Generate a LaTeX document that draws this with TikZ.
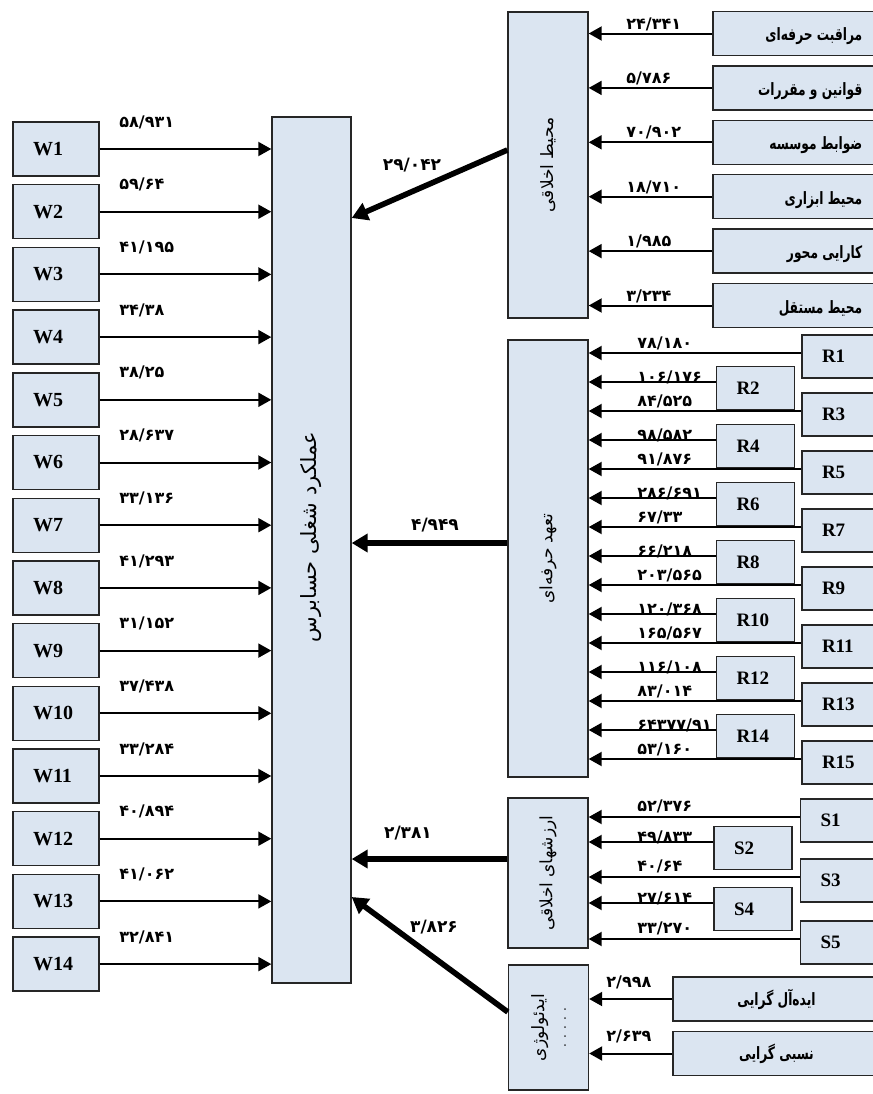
\documentclass[tikz,border=0pt]{standalone}
\usepackage{fontspec}
\setmainfont{Liberation Serif}
\newfontfamily\fa[Script=Arabic]{DejaVu Sans}
\newfontfamily\fanarrow[Script=Arabic,FakeStretch=0.72]{DejaVu Sans}
\newfontfamily\fanum{DejaVu Sans}
\TeXXeTstate=1
\usetikzlibrary{arrows.meta}
\definecolor{boxblue}{RGB}{219,229,241}

\begin{document}
\begin{tikzpicture}[x=0.5pt,y=-0.5pt,
  blk/.style={draw=black!85,fill=boxblue,line width=0.7pt},
  wbox/.style={blk,text width=23pt,inner xsep=10pt,inner ysep=0pt,minimum height=27pt,align=left,font=\bfseries\fontsize{10}{12}\selectfont},
  rbox/.style={blk,text width=19pt,inner xsep=10pt,inner ysep=0pt,minimum height=21.5pt,align=left,font=\bfseries\fontsize{9.5}{11}\selectfont},
  itembox/.style={blk,minimum width=83.5pt,minimum height=22pt,inner sep=0pt},
  itemtxt/.style={inner sep=0pt,font=\fanarrow\bfseries\fontsize{8.5}{10}\selectfont},
  idbox/.style={blk,minimum width=103.5pt,minimum height=22pt,inner sep=0pt,font=\fanarrow\bfseries\fontsize{8.5}{10}\selectfont},
  gbox/.style={blk,minimum width=40pt,inner sep=0pt,font=\fa\fontsize{8.5}{10}\selectfont},
  num/.style={inner sep=0.5pt,font=\fanum\bfseries\fontsize{8}{9}\selectfont},
  bignum/.style={num,font=\fanum\bfseries\fontsize{8.5}{10}\selectfont},
  arr/.style={line width=1pt,-{Triangle[length=6.5pt,width=7pt]}},
  bigarr/.style={line width=2.8pt,-{Triangle[length=8pt,width=9pt]}}]
\useasboundingbox (0,0) rectangle (873,1094);

\node[blk,minimum width=39.5pt,minimum height=433pt,inner sep=0pt] (main) at (311.5,550) {};
\node[inner sep=0pt,font=\fa\fontsize{10.5}{12}\selectfont] (maintxt) at ([yshift=6.5pt]main.center) {\rotatebox{90}{\beginR عملکرد شغلی حسابرس\endR}};

\foreach \i/\v in {1/{۵۸/۹۳۱},2/{۵۹/۶۴},3/{۴۱/۱۹۵},4/{۳۴/۳۸},5/{۳۸/۲۵},6/{۲۸/۶۳۷},7/{۳۳/۱۳۶},8/{۴۱/۲۹۳},9/{۳۱/۱۵۲},10/{۳۷/۴۳۸},11/{۳۳/۲۸۴},12/{۴۰/۸۹۴},13/{۴۱/۰۶۲},14/{۳۲/۸۴۱}}{
  \node[wbox] (w\i) at (56,{149+62.7*(\i-1)}) {W\i};
  \node[num,anchor=west] (lw\i) at (118,{122+62.7*(\i-1)}) {\v};
  \draw[arr] (w\i.east) -- (w\i.east -| main.west);
}

\node[gbox,minimum height=153pt] (g1) at (548,165) {\rotatebox{90}{\beginR محیط اخلاقی\endR}};
\foreach \i/\t/\v in {1/{مراقبت حرفه‌ای}/{۲۴/۳۴۱},2/{قوانین و مقررات}/{۵/۷۸۶},3/{ضوابط موسسه}/{۷۰/۹۰۲},4/{محیط ابزاری}/{۱۸/۷۱۰},5/{کارایی محور}/{۱/۹۸۵},6/{محیط مستقل}/{۳/۲۳۴}}{
  \node[itembox] (e\i) at (796.5,{33.5+54.4*(\i-1)}) {};
  \node[itemtxt,anchor=east] (te\i) at ([xshift=-9pt,yshift=-1.5pt]e\i.east) {\beginR\t\endR};
  \draw[arr] (e\i.west) -- (e\i.west -| g1.east);
  \node[num,anchor=south west] (le\i) at (625,{32+54.4*(\i-1)}) {\v};
}

\node[gbox,minimum height=218.5pt] (g2) at (548,558.5) {\rotatebox{90}{\beginR تعهد حرفه‌ای\endR}};
\foreach \k/\v in {1/{۷۸/۱۸۰},2/{۱۰۶/۱۷۶},3/{۸۴/۵۲۵},4/{۹۸/۵۸۲},5/{۹۱/۸۷۶},6/{۲۸۶/۶۹۱},7/{۶۷/۳۳},8/{۶۶/۲۱۸},9/{۲۰۳/۵۶۵},10/{۱۲۰/۳۶۸},11/{۱۶۵/۵۶۷},12/{۱۱۶/۱۰۸},13/{۸۳/۰۱۴},14/{۶۴۳۷۷/۹۱},15/{۵۳/۱۶۰}}{
  \pgfmathsetmacro\ya{353+29*(\k-1)}
  \pgfmathsetmacro\od{mod(\k,2)}
  \pgfmathsetmacro\xb{\od==1 ? 841 : 755.5}
  \pgfmathsetmacro\yb{\ya+(\od==1 ? 3.5 : 6)}
  \pgfmathsetmacro\yl{\ya+(\od==1 ? -2 : 3)}
  \node[num,anchor=south west] (lr\k) at (636,\yl) {\v};
  \node[rbox] (r\k) at (\xb,\yb) {R\k};
  \coordinate (ar\k) at (r\k.west |- 0,\ya);
  \draw[arr] (ar\k) -- (ar\k -| g2.east);
}

\node[gbox,minimum height=75pt] (g3) at (548,873) {\rotatebox{90}{\beginR ارزشهای اخلاقی\endR}};
\foreach \k/\ya/\v in {1/817/{۵۲/۳۷۶},2/842/{۴۹/۸۳۳},3/877/{۴۰/۶۴},4/903/{۲۷/۶۱۴},5/939/{۳۳/۲۷۰}}{
  \pgfmathsetmacro\od{mod(\k,2)}
  \pgfmathsetmacro\xb{\od==1 ? 839.5 : 753}
  \pgfmathsetmacro\yb{\ya+(\od==1 ? 3.5 : 6)}
  \pgfmathsetmacro\yl{\ya+(\od==1 ? -3 : 3)}
  \node[num,anchor=south west] (ls\k) at (636,\yl) {\v};
  \node[rbox] (s\k) at (\xb,\yb) {S\k};
  \coordinate (as\k) at (s\k.west |- 0,\ya);
  \draw[arr] (as\k) -- (as\k -| g3.east);
}

\node[gbox,minimum height=62.5pt] (g4) at (548.5,1027.5) {\rotatebox{90}{\shortstack{\beginR ایدئولوژی\endR\\[5pt]{\fontsize{6}{6}\selectfont . . . . .}}}};
\foreach \i/\t/\ya/\v in {1/{ایده‌آل گرایی}/999/{۲/۹۹۸},2/{نسبی گرایی}/1053.5/{۲/۶۳۹}}{
  \node[idbox] (d\i) at (776.5,\ya) {\beginR\t\endR};
  \draw[arr] (d\i.west) -- (d\i.west -| g4.east);
  \node[num,anchor=west] (ld\i) at (605,{\ya-17}) {\v};
}

\draw[bigarr] ([yshift=7.5pt]g1.west) -- ([yshift=166pt]main.east);
\coordinate (a2) at ([yshift=7.75pt]g2.west);
\draw[bigarr] (a2) -- (a2 -| main.east);
\coordinate (a3) at ([yshift=7pt]g3.west);
\draw[bigarr] (a3) -- (a3 -| main.east);
\draw[bigarr] ([yshift=7.75pt]g4.west) -- ([yshift=-173.5pt]main.east);
\node[bignum] (b1) at (412,165) {۲۹/۰۴۲};
\node[bignum] (b2) at (435,525) {۴/۹۴۹};
\node[bignum] (b3) at (408,833) {۲/۳۸۱};
\node[bignum] (b4) at (434,927) {۳/۸۲۶};
\end{tikzpicture}
\end{document}
